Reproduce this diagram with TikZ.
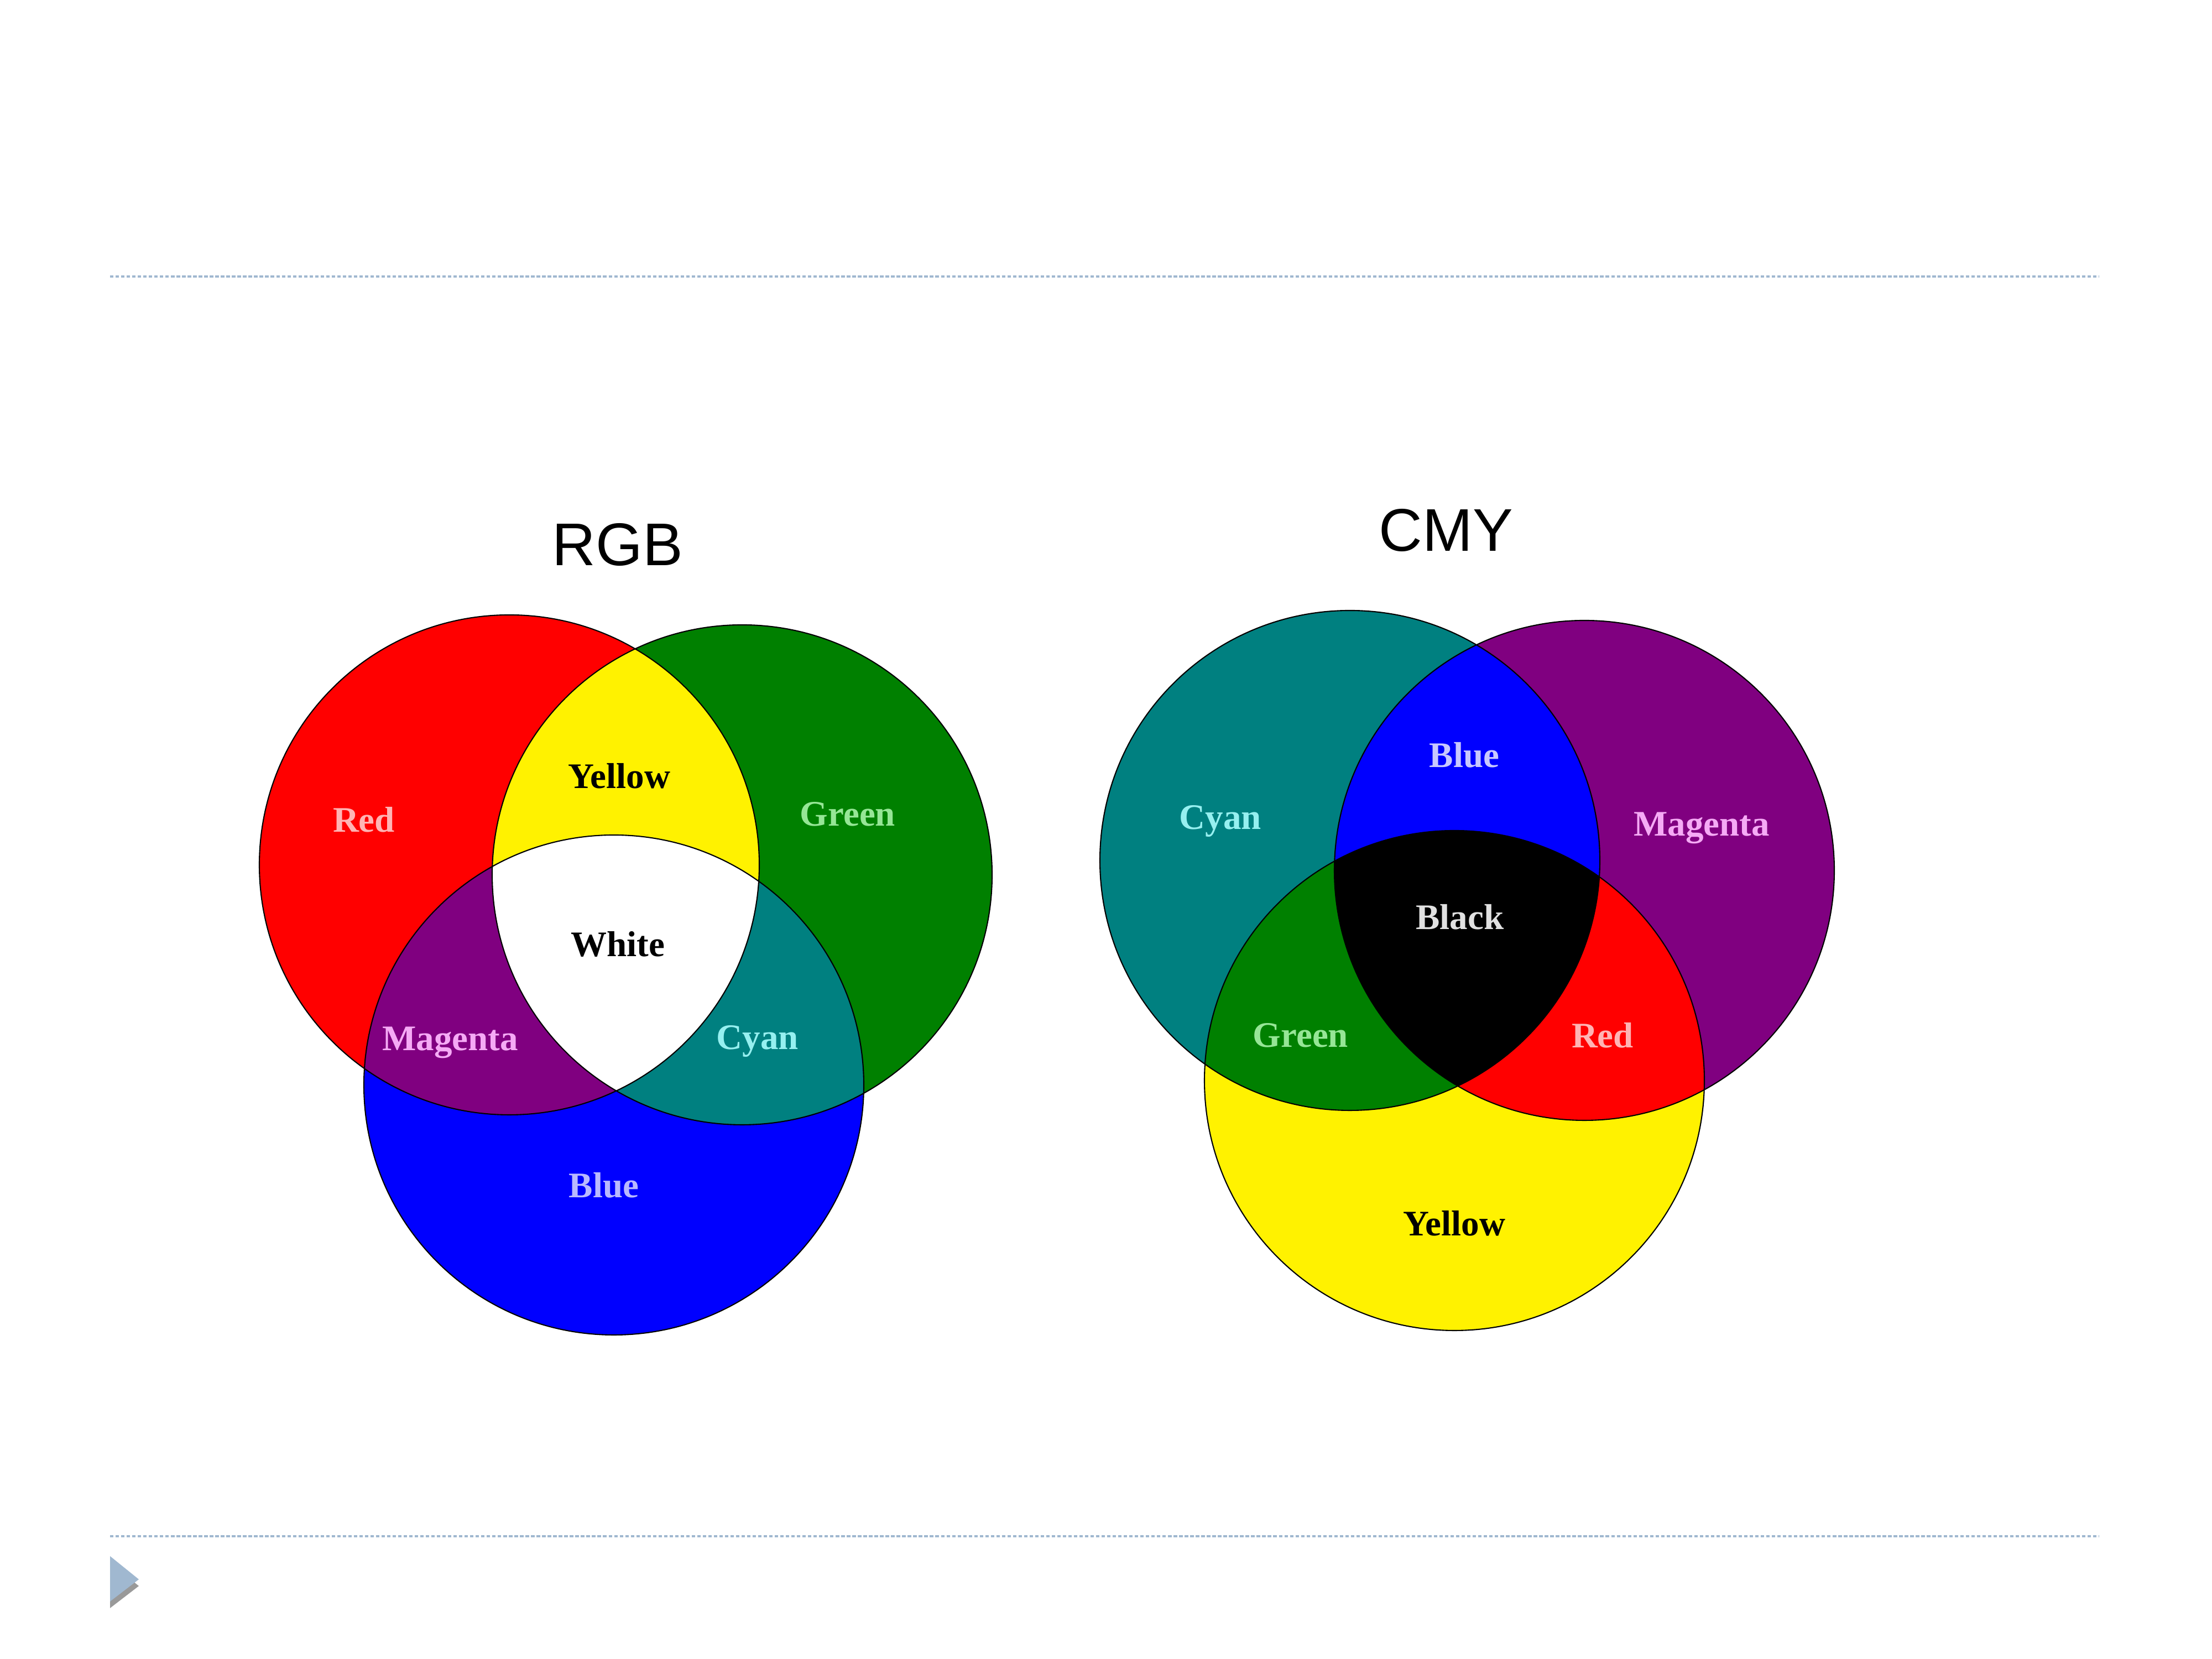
\documentclass[tikz,border=0pt]{standalone}
\usepackage{fontspec}
\setmainfont{Liberation Serif}
\newfontfamily\titlefont{Liberation Sans}
\definecolor{rulecol}{RGB}{160,184,208}
\definecolor{teal}{RGB}{0,128,128}
\definecolor{purple}{RGB}{128,0,128}
\definecolor{darkgreen}{RGB}{0,128,0}
\begin{document}
\begin{tikzpicture}[
  lbl/.style={font=\fontsize{18.5}{20}\selectfont\bfseries},
  ttl/.style={font=\titlefont\fontsize{31}{34}\selectfont},
  rim/.style={draw=black, line width=0.6pt},
  rulerline/.style={rulecol, line width=1.14pt, dash pattern=on 1.8pt off 1.05pt}]
  \useasboundingbox (0,0) rectangle (40,30);
  \fill[white] (0,0) rectangle (40,30);
  \def\rad{4.52}
  \coordinate (cR) at (9.21, 14.36);
  \coordinate (cG) at (13.42, 14.18);
  \coordinate (cB) at (11.10, 10.38);
  \coordinate (cC) at (24.41, 14.44);
  \coordinate (cM) at (28.65, 14.26);
  \coordinate (cY) at (26.30, 10.46);
  \draw[rulerline] (1.99, 25.0) -- (37.96, 25.0);
  \draw[rulerline] (1.99, 2.22) -- (37.96, 2.22);
  \fill[gray!80] (1.99, 1.74) -- (2.51, 1.32) -- (1.99, 0.92) -- cycle;
  \fill[rulecol] (1.99, 1.86) -- (2.51, 1.44) -- (1.99, 1.04) -- cycle;
  % RGB
  \fill[red] (cR) circle (\rad);
  \fill[darkgreen] (cG) circle (\rad);
  \fill[blue] (cB) circle (\rad);
  \begin{scope}
    \clip (cR) circle (\rad);
    \fill[yellow] (cG) circle (\rad);
    \fill[purple] (cB) circle (\rad);
  \end{scope}
  \begin{scope}
    \clip (cG) circle (\rad);
    \fill[teal] (cB) circle (\rad);
    \clip (cR) circle (\rad);
    \fill[white] (cB) circle (\rad);
  \end{scope}
  \draw[rim] (cR) circle (\rad) (cG) circle (\rad) (cB) circle (\rad);
  % CMY
  \fill[teal] (cC) circle (\rad);
  \fill[purple] (cM) circle (\rad);
  \fill[yellow] (cY) circle (\rad);
  \begin{scope}
    \clip (cC) circle (\rad);
    \fill[blue] (cM) circle (\rad);
    \fill[darkgreen] (cY) circle (\rad);
  \end{scope}
  \begin{scope}
    \clip (cM) circle (\rad);
    \fill[red] (cY) circle (\rad);
    \clip (cC) circle (\rad);
    \fill[black] (cY) circle (\rad);
  \end{scope}
  \draw[rim] (cC) circle (\rad) (cM) circle (\rad) (cY) circle (\rad);
  \node[ttl] (RGB) at (11.17, 20.15) {RGB};
  \node[ttl] (CMY) at (26.15, 20.41) {CMY};
  \node[lbl, text={rgb,255:red,255;green,180;blue,180}] (RGBred) at (6.58, 15.18) {Red};
  \node[lbl, text=black] (RGByellow) at (11.20, 15.97) {Yellow};
  \node[lbl, text={rgb,255:red,150;green,230;blue,150}] (RGBgreen) at (15.33, 15.28) {Green};
  \node[lbl, text=black] (RGBwhite) at (11.17, 12.93) {White};
  \node[lbl, text={rgb,255:red,245;green,170;blue,245}] (RGBmagenta) at (8.14, 11.15) {Magenta};
  \node[lbl, text={rgb,255:red,150;green,240;blue,240}] (RGBcyan) at (13.70, 11.17) {Cyan};
  \node[lbl, text={rgb,255:red,185;green,185;blue,255}] (RGBblue) at (10.92, 8.57) {Blue};
  \node[lbl, text={rgb,255:red,150;green,240;blue,240}] (CMYcyan) at (22.07, 15.15) {Cyan};
  \node[lbl, text={rgb,255:red,200;green,200;blue,255}] (CMYblue) at (26.48, 16.35) {Blue};
  \node[lbl, text={rgb,255:red,245;green,170;blue,245}] (CMYmagenta) at (30.77, 15.03) {Magenta};
  \node[lbl, text={rgb,255:red,225;green,225;blue,225}] (CMYblack) at (26.40, 13.42) {Black};
  \node[lbl, text={rgb,255:red,150;green,230;blue,150}] (CMYgreen) at (23.52, 11.28) {Green};
  \node[lbl, text={rgb,255:red,255;green,180;blue,180}] (CMYred) at (28.98, 11.28) {Red};
  \node[lbl, text=black] (CMYyellow) at (26.30, 7.88) {Yellow};
\end{tikzpicture}
\end{document}
